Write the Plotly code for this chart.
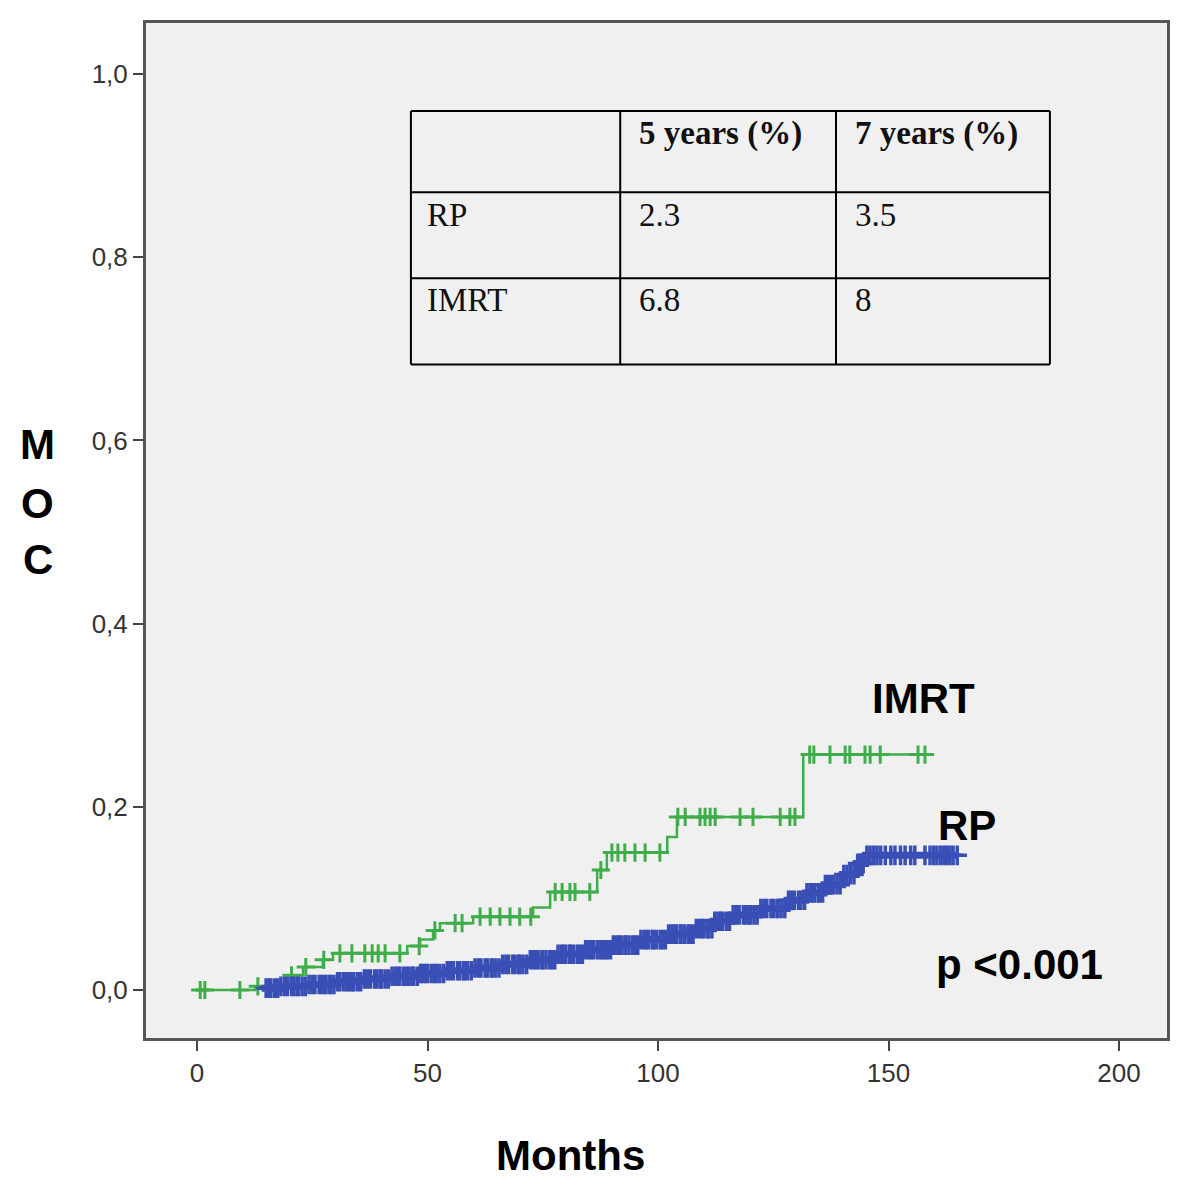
import plotly.graph_objects as go

# ---------------- data ----------------
# IMRT Kaplan-Meier step curve (months, cumulative incidence)
imrt_t = [0, 12.6, 20.2, 23.0, 27.3, 29.5, 45.6, 48.4, 51.2, 52.7, 59.9, 72.9, 76.6, 86.8, 88.9, 102.0, 104.1, 131.5, 157.9]
imrt_v = [0.0, 0.004, 0.016, 0.025, 0.033, 0.040, 0.048, 0.055, 0.065, 0.073, 0.080, 0.090, 0.107, 0.131, 0.150, 0.167, 0.189, 0.257, 0.257]
imrt_censor = [0.7, 1.7, 9.3, 13.2, 20.5, 23.6, 27.5, 31, 33.6, 36.4, 38, 39.3, 40.8, 44, 48.2, 51.6, 56, 57.5,
               61.4, 63.6, 65.7, 67.9, 70, 72.4, 77.7, 79.2, 80.9, 82, 85.2, 87.6, 90, 91.3, 92.8, 95, 97.2, 100.4,
               104.3, 105.9, 109.1, 110.2, 111.3, 112.4, 117.8, 120.6, 126.5, 128.6, 129.7, 132.9, 133.8, 137.3,
               140.6, 141.6, 144.9, 146, 148.2, 156.4, 157.9]

# RP Kaplan-Meier step curve
rp_t = [14, 18, 24, 30, 36, 42, 48, 54, 60, 66, 72, 78, 84, 90, 96, 102, 108, 112, 116, 122, 128, 132, 136, 140, 143, 145, 165]
rp_v = [0.002, 0.004, 0.006, 0.009, 0.012, 0.015, 0.018, 0.021, 0.024, 0.028, 0.033, 0.039, 0.044, 0.049, 0.055,
        0.061, 0.067, 0.075, 0.082, 0.089, 0.098, 0.106, 0.115, 0.126, 0.138, 0.147, 0.147]
rp_censor = [15, 15.6, 16, 16.8, 17.5, 18.2, 19, 19.6, 20.5, 21, 21.7, 22, 22.8, 23.5, 24.3, 25, 25.6, 26.5, 27, 27.7,
             28, 28.8, 29, 29.7, 30.5, 31, 31.8, 32.5, 33, 33.6, 34, 34.8, 35.5, 36.3, 37, 37.6, 38.5, 39, 39.7, 40,
             40.8, 41.5, 42.3, 43, 43.6, 44, 44.8, 45.5, 46, 46.7, 47, 47.8, 48.5, 49, 49.6, 50, 50.8, 51.5, 52, 52.7,
             53.5, 54.3, 55, 55.6, 56.5, 57, 57.8, 58, 58.7, 59.5, 60.3, 61, 61.6, 62.5, 63, 63.8, 64, 64.7, 65.5,
             66.3, 67, 67.6, 68.5, 69, 69.8, 70, 70.7, 71.5, 72.3, 73, 73.5, 74, 74.8, 75, 75.7, 76.5, 77, 77.6,
             78.3, 79, 79.5, 80, 80.8, 81, 81.7, 82.5, 83, 83.6, 84.3, 85, 85.5, 86, 86.8, 87.5, 88, 88.6, 89, 89.7,
             90.3, 91, 91.5, 92, 92.8, 93, 93.7, 94.5, 95, 95.6, 96.3, 97, 97.5, 98, 98.8, 99, 99.7, 100.5, 101,
             101.6, 102.3, 103, 103.5, 104, 104.8, 105, 105.7, 106.5, 107, 107.6, 108.3, 109, 109.5, 110, 110.8, 111,
             111.7, 112.3, 113, 113.6, 114, 114.8, 115.5, 116.3, 117, 117.6, 118.5, 119, 119.7, 120, 120.8, 121.5,
             122.3, 123, 123.6, 124.5, 125, 125.8, 126, 126.7, 127.5, 128.3, 129, 129.6, 130.5, 131, 131.8, 132.3,
             133, 133.5, 134, 134.8, 135, 135.7, 136.3, 137, 137.6, 138, 138.8, 139.5, 140.3, 141, 141.7, 142.5,
             143.3, 144, 144.5, 145.3, 146, 146.8, 147.5, 148.3, 149.3, 150.5, 151.4, 152.6, 153.6, 154.8, 155.7,
             157.9, 159, 159.8, 160.5, 161.3, 162, 162.6, 163.3, 164, 164.9]

x_ticks = [0, 50, 100, 150, 200]
y_ticks = [0.0, 0.2, 0.4, 0.6, 0.8, 1.0]
y_tick_text = ["0,0", "0,2", "0,4", "0,6", "0,8", "1,0"]

table_header = ["", "5 years (%)", "7 years (%)"]
table_rows = [["RP", "2.3", "3.5"], ["IMRT", "6.8", "8"]]

GREEN = "#3fae4a"
BLUE = "#3a4fb5"


def step_value(ts, vs, t):
    val = vs[0]
    for ti, vi in zip(ts, vs):
        if ti <= t:
            val = vi
    return val


fig = go.Figure()

# IMRT
fig.add_trace(go.Scatter(x=imrt_t, y=imrt_v, mode="lines", line=dict(color=GREEN, width=2.5, shape="hv"),
                         showlegend=False, hoverinfo="skip"))
fig.add_trace(go.Scatter(x=imrt_censor, y=[step_value(imrt_t, imrt_v, t) for t in imrt_censor], mode="markers",
                         marker=dict(symbol="cross-thin", size=13, line=dict(color=GREEN, width=3)),
                         showlegend=False, hoverinfo="skip"))
# RP
fig.add_trace(go.Scatter(x=rp_t, y=rp_v, mode="lines", line=dict(color=BLUE, width=7, shape="hv"),
                         showlegend=False, hoverinfo="skip"))
fig.add_trace(go.Scatter(x=rp_censor, y=[step_value(rp_t, rp_v, t) for t in rp_censor], mode="markers",
                         marker=dict(symbol="cross-thin", size=14, line=dict(color=BLUE, width=3.5)),
                         showlegend=False, hoverinfo="skip"))

# ---------------- table ----------------
tx = [46.4, 91.8, 138.6, 185.0]
ty = [0.9596, 0.871, 0.777, 0.683]
shapes = []
for x in tx:
    shapes.append(dict(type="line", xref="x", yref="y", x0=x, x1=x, y0=ty[-1], y1=ty[0],
                       line=dict(color="black", width=2)))
for y in ty:
    shapes.append(dict(type="line", xref="x", yref="y", x0=tx[0], x1=tx[-1], y0=y, y1=y,
                       line=dict(color="black", width=2)))

annotations = []
text_x = [49.5, 95.5, 142.2]
row_text_y = [0.935, 0.846, 0.753]
serif = dict(family="Liberation Serif", size=33, color="#111")
for j, h in enumerate(table_header):
    if h:
        annotations.append(dict(x=text_x[j], y=row_text_y[0], xref="x", yref="y", text="<b>" + h + "</b>",
                                showarrow=False, xanchor="left", yanchor="middle", font=serif))
for i, row in enumerate(table_rows):
    for j, cell in enumerate(row):
        annotations.append(dict(x=text_x[j], y=row_text_y[i + 1], xref="x", yref="y", text=cell,
                                showarrow=False, xanchor="left", yanchor="middle", font=serif))

bold = dict(family="Liberation Sans, Arial", size=42, color="black")


def lab(x, y, text, ref="x"):
    yref = "y" if ref == "x" else "paper"
    return dict(x=x, y=y, xref=ref, yref=yref, text="<b>" + text + "</b>", showarrow=False,
                xanchor="center", yanchor="middle", font=bold)


annotations += [
    lab(157.5, 0.318, "IMRT"),
    lab(167, 0.180, "RP"),
    lab(178.5, 0.028, "p &lt;0.001"),
    lab(-0.1058, 0.585, "M", "paper"),
    lab(-0.1058, 0.527, "O", "paper"),
    lab(-0.1058, 0.471, "C", "paper"),
    lab(0.4153, -0.1153, "Months", "paper"),
]

tickfont = dict(family="Liberation Sans, Arial", size=26, color="#333")
fig.update_layout(
    width=1192, height=1182,
    margin=dict(l=138, r=33, t=15, b=152),
    paper_bgcolor="white", plot_bgcolor="#f0f0f0",
    shapes=shapes, annotations=annotations,
    xaxis=dict(range=[-11.06, 210.4], tickvals=x_ticks, ticktext=[str(v) for v in x_ticks],
               showgrid=False, zeroline=False, showline=True, mirror=True, linecolor="#555", linewidth=3,
               ticks="outside", ticklen=10, tickwidth=2, tickcolor="#444", tickfont=tickfont),
    yaxis=dict(range=[-0.0524, 1.0557], tickvals=y_ticks, ticktext=y_tick_text,
               showgrid=False, zeroline=False, showline=True, mirror=True, linecolor="#555", linewidth=3,
               ticks="outside", ticklen=10, tickwidth=2, tickcolor="#444", tickfont=tickfont),
)

fig.write_html("out.html")
